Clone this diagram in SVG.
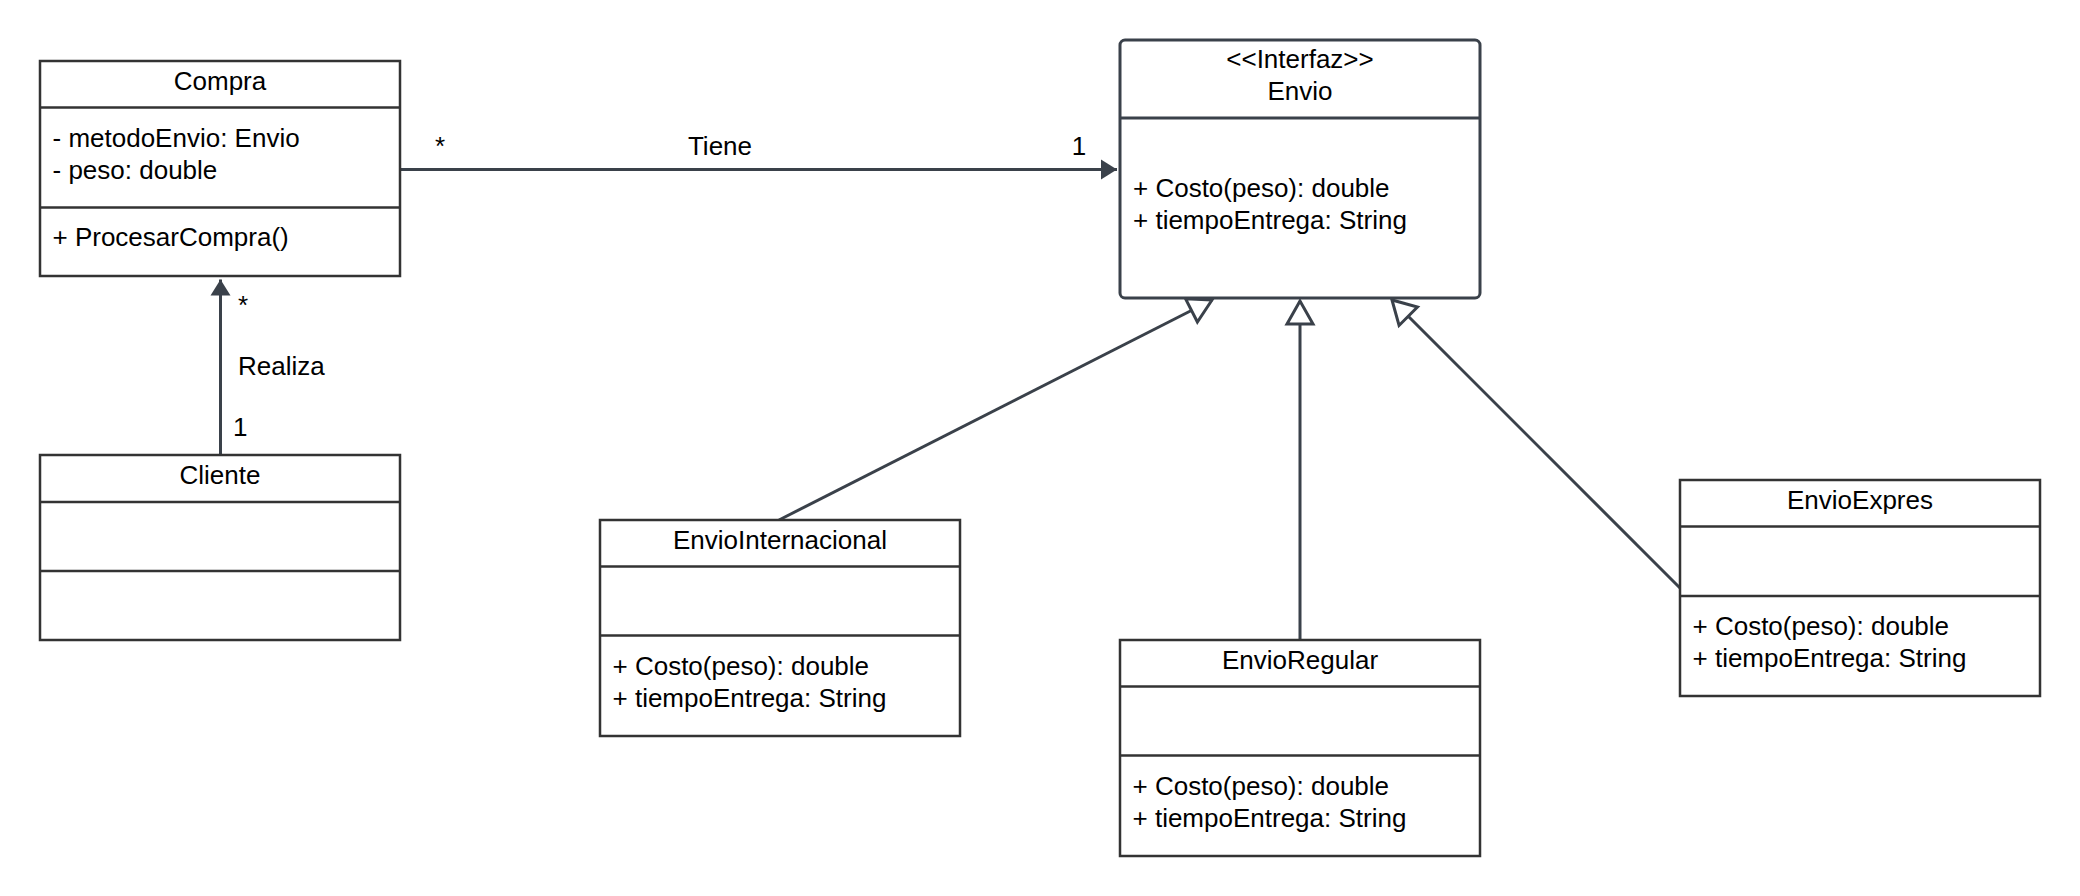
<svg xmlns="http://www.w3.org/2000/svg" width="2080" height="896" viewBox="0 0 2080 896">
<style>
  .box { fill: #ffffff; stroke: #333333; stroke-width: 2.5; }
  .sep { stroke: #333333; stroke-width: 2.5; }
  .ibox { fill: #ffffff; stroke: #3a414a; stroke-width: 3; }
  .isep { stroke: #3a414a; stroke-width: 3; }
  text { font-family: "Liberation Sans", Arial, sans-serif; font-size: 26px; fill: #000000; }
  .c { text-anchor: middle; }
  .conn { fill: none; stroke: #3a414a; stroke-width: 3; }
</style>
<defs>
  <marker id="filled" markerUnits="userSpaceOnUse" markerWidth="24" markerHeight="24" viewBox="-18 -12 20 24" refX="0" refY="0" orient="auto">
    <path d="M0,0 L-16,-10 L-16,10 Z" fill="#3a414a"/>
  </marker>
  <marker id="hollow" markerUnits="userSpaceOnUse" markerWidth="34" markerHeight="34" viewBox="-28 -17 32 34" refX="0" refY="0" orient="auto">
    <path d="M0,0 L-23,-13 L-23,13 Z" fill="#ffffff" stroke="#3a414a" stroke-width="3" stroke-linejoin="miter"/>
  </marker>
</defs>
<rect width="2080" height="896" fill="#ffffff"/>

<g id="connectors">
  <line class="conn" x1="401" y1="169.5" x2="1117" y2="169.5" marker-end="url(#filled)"/>
  <line class="conn" x1="220.5" y1="455" x2="220.5" y2="279.5" marker-end="url(#filled)"/>
  <line class="conn" x1="779" y1="520" x2="1212" y2="300" marker-end="url(#hollow)"/>
  <line class="conn" x1="1300" y1="640" x2="1300" y2="301" marker-end="url(#hollow)"/>
  <line class="conn" x1="1680" y1="588" x2="1392" y2="300" marker-end="url(#hollow)"/>
  <text x="440" y="155" class="c">*</text>
  <text x="720" y="155" class="c">Tiene</text>
  <text x="1079" y="155" class="c">1</text>
  <text x="238" y="314">*</text>
  <text x="238" y="375">Realiza</text>
  <text x="233" y="436">1</text>
</g>

<g id="Compra">
  <rect class="box" x="40" y="61" width="360" height="215"/>
  <line class="sep" x1="40" y1="107.5" x2="400" y2="107.5"/>
  <line class="sep" x1="40" y1="207.5" x2="400" y2="207.5"/>
  <text x="220" y="90" class="c">Compra</text>
  <text x="52.5" y="147">- metodoEnvio: Envio</text>
  <text x="52.5" y="179">- peso: double</text>
  <text x="52.5" y="246">+ ProcesarCompra()</text>
</g>

<g id="Cliente">
  <rect class="box" x="40" y="455" width="360" height="185"/>
  <line class="sep" x1="40" y1="502" x2="400" y2="502"/>
  <line class="sep" x1="40" y1="571" x2="400" y2="571"/>
  <text x="220" y="484" class="c">Cliente</text>
</g>

<g id="Envio">
  <rect class="ibox" x="1120" y="40" width="360" height="258" rx="5" ry="5"/>
  <line class="isep" x1="1120" y1="118" x2="1480" y2="118"/>
  <text x="1300" y="68" class="c">&lt;&lt;Interfaz&gt;&gt;</text>
  <text x="1300" y="99.5" class="c">Envio</text>
  <text x="1133" y="197">+ Costo(peso): double</text>
  <text x="1133" y="229">+ tiempoEntrega: String</text>
</g>

<g id="EnvioInternacional">
  <rect class="box" x="600" y="520" width="360" height="216"/>
  <line class="sep" x1="600" y1="566.5" x2="960" y2="566.5"/>
  <line class="sep" x1="600" y1="635.5" x2="960" y2="635.5"/>
  <text x="780" y="548.5" class="c">EnvioInternacional</text>
  <text x="612.5" y="675">+ Costo(peso): double</text>
  <text x="612.5" y="707">+ tiempoEntrega: String</text>
</g>

<g id="EnvioRegular">
  <rect class="box" x="1120" y="640" width="360" height="216"/>
  <line class="sep" x1="1120" y1="686.5" x2="1480" y2="686.5"/>
  <line class="sep" x1="1120" y1="755.5" x2="1480" y2="755.5"/>
  <text x="1300" y="669" class="c">EnvioRegular</text>
  <text x="1132.5" y="795">+ Costo(peso): double</text>
  <text x="1132.5" y="827">+ tiempoEntrega: String</text>
</g>

<g id="EnvioExpres">
  <rect class="box" x="1680" y="480" width="360" height="216"/>
  <line class="sep" x1="1680" y1="526.5" x2="2040" y2="526.5"/>
  <line class="sep" x1="1680" y1="596" x2="2040" y2="596"/>
  <text x="1860" y="509" class="c">EnvioExpres</text>
  <text x="1692.5" y="635">+ Costo(peso): double</text>
  <text x="1692.5" y="667">+ tiempoEntrega: String</text>
</g>
</svg>
